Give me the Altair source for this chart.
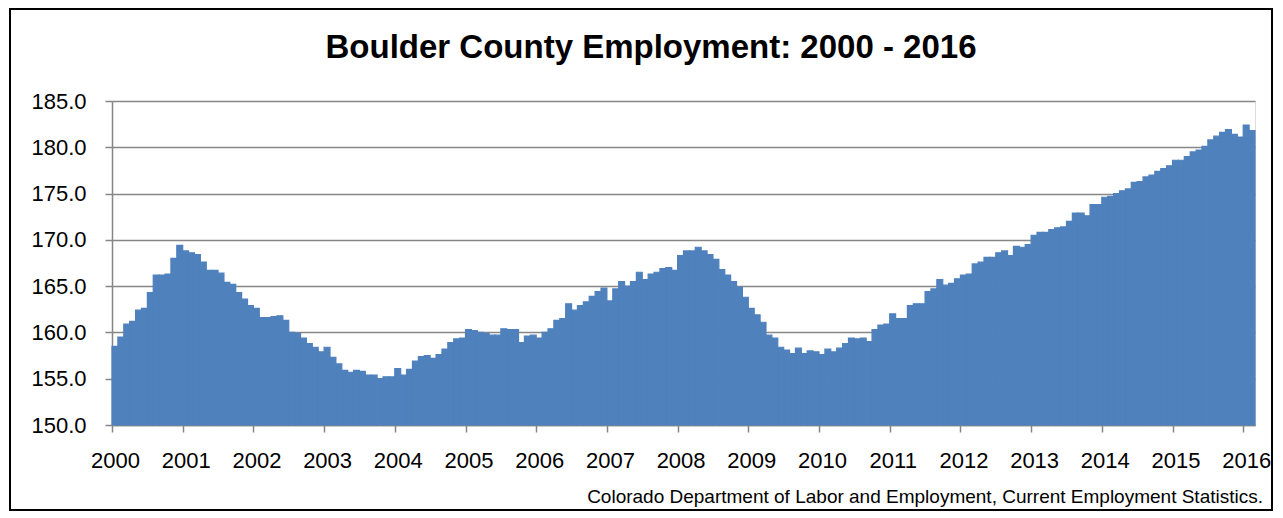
import altair as alt
import pandas as pd

# Boulder County employment (thousands), monthly Jan 2000 - Feb 2016
y2000 = [158.5, 159.5, 160.9, 161.2, 162.4, 162.6, 164.3, 166.2, 166.2, 166.3, 168.0, 169.4]
y2001 = [168.8, 168.6, 168.4, 167.6, 166.7, 166.7, 166.4, 165.4, 165.2, 164.3, 163.6, 162.9]
y2002 = [162.6, 161.6, 161.6, 161.7, 161.8, 161.3, 160.0, 159.9, 159.4, 158.8, 158.4, 157.9]
y2003 = [158.4, 157.3, 156.6, 155.9, 155.7, 155.9, 155.8, 155.4, 155.4, 155.0, 155.2, 155.2]
y2004 = [156.1, 155.4, 156.0, 156.9, 157.4, 157.5, 157.2, 157.6, 158.2, 158.9, 159.3, 159.4]
y2005 = [160.3, 160.2, 160.0, 159.9, 159.7, 159.7, 160.4, 160.3, 160.3, 158.9, 159.6, 159.7]
y2006 = [159.4, 160.0, 160.4, 161.3, 161.5, 163.1, 162.4, 162.9, 163.3, 163.9, 164.4, 164.8]
y2007 = [163.4, 164.7, 165.5, 165.0, 165.5, 166.5, 165.7, 166.3, 166.5, 166.9, 167.0, 166.7]
y2008 = [168.3, 168.8, 168.8, 169.2, 168.8, 168.4, 167.9, 166.8, 166.2, 165.5, 164.9, 163.8]
y2009 = [162.6, 161.9, 161.1, 159.7, 159.4, 158.4, 158.1, 157.7, 158.3, 157.7, 158.0, 157.9]
y2010 = [157.6, 158.2, 157.9, 158.3, 158.8, 159.4, 159.3, 159.4, 159.0, 160.3, 160.8, 160.9]
y2011 = [162.0, 161.5, 161.5, 162.9, 163.1, 163.1, 164.4, 164.7, 165.7, 165.1, 165.3, 165.8]
y2012 = [166.2, 166.3, 167.4, 167.6, 168.1, 168.1, 168.6, 168.8, 168.3, 169.3, 169.2, 169.5]
y2013 = [170.5, 170.8, 170.8, 171.1, 171.3, 171.4, 172.0, 172.9, 172.9, 172.6, 173.8, 173.8]
y2014 = [174.6, 174.7, 175.0, 175.3, 175.5, 176.2, 176.3, 176.8, 177.0, 177.4, 177.7, 178.0]
y2015 = [178.6, 178.6, 179.0, 179.5, 179.7, 180.1, 180.8, 181.2, 181.6, 181.9, 181.4, 181.1]
y2016 = [182.4, 181.8]

YEARS = list(range(2000, 2017))
Y_TICKS = [150, 155, 160, 165, 170, 175, 180, 185]
TITLE = "Boulder County Employment: 2000 - 2016"
SOURCE = "Colorado Department of Labor and Employment, Current Employment Statistics."

values = (y2000 + y2001 + y2002 + y2003 + y2004 + y2005 + y2006 + y2007 + y2008
          + y2009 + y2010 + y2011 + y2012 + y2013 + y2014 + y2015 + y2016)
df = pd.DataFrame({"m": list(range(len(values))), "emp": values})

PLOT_W = 1143
PLOT_H = 324
BLUE = "#4F81BD"
GRAY = "#868686"
FONT = "Liberation Sans"

x_ticks = [(yr - 2000) * 12 for yr in YEARS]

bars = alt.Chart(df).transform_calculate(
    m_end="datum.m + 1"
).mark_rect(color=BLUE, stroke=BLUE, strokeWidth=1.2).encode(
    x=alt.X("m:Q",
            scale=alt.Scale(domain=[0, len(values)], nice=False, zero=False),
            axis=alt.Axis(values=x_ticks,
                          labelExpr="toString(2000 + round(datum.value / 12))",
                          grid=False, domainColor=GRAY, domainWidth=1.5,
                          tickColor=GRAY, tickWidth=1.5, tickSize=7,
                          labelFontSize=22, labelFont=FONT, labelColor="black",
                          labelPadding=18, labelOffset=3,
                          labelFlush=False, labelOverlap=False, title=None)),
    x2="m_end:Q",
    y=alt.Y("emp:Q",
            scale=alt.Scale(domain=[150, 185], nice=False, zero=False),
            axis=alt.Axis(values=Y_TICKS, format=".1f",
                          grid=True, gridColor=GRAY, gridWidth=1.5,
                          domainColor=GRAY, domainWidth=1.5,
                          tickColor=GRAY, tickWidth=1.5, tickSize=7,
                          labelFontSize=22, labelFont=FONT, labelColor="black",
                          labelPadding=19, labelFlush=False, labelOverlap=False,
                          title=None)),
    y2=alt.datum(150),
)

one = pd.DataFrame({"title": [TITLE], "source": [SOURCE]})

title = alt.Chart(one).mark_text(
    font=FONT, fontSize=33, fontWeight="bold", color="black",
    align="center", baseline="alphabetic"
).encode(x=alt.value(539), y=alt.value(-43), text="title:N")

source = alt.Chart(one).mark_text(
    font=FONT, fontSize=19, color="black",
    align="right", baseline="alphabetic"
).encode(x=alt.value(1151), y=alt.value(402), text="source:N")

border = alt.Chart(one).mark_rect(
    fillOpacity=0, stroke="black", strokeWidth=2
).encode(x=alt.value(-102), x2=alt.value(1160), y=alt.value(-92), y2=alt.value(409))

chart = alt.layer(bars, title, source, border).properties(
    width=PLOT_W, height=PLOT_H,
    padding={"left": 104, "top": 93, "right": 18, "bottom": 87},
    autosize=alt.AutoSizeParams(type="none"),
).configure_view(strokeWidth=0).configure(background="white")

chart.save("out.html", embed_options={"renderer": "svg", "actions": False})
